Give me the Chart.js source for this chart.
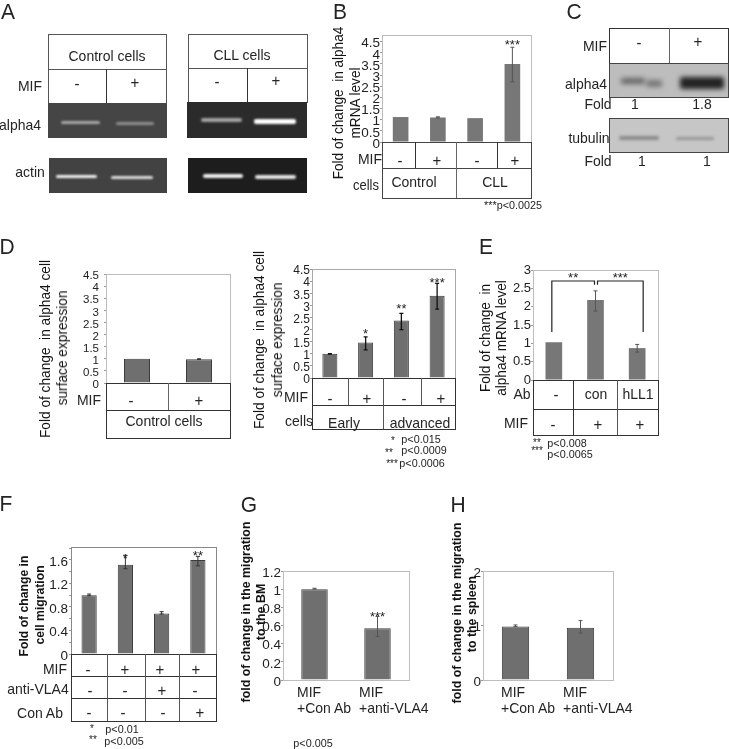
<!DOCTYPE html>
<html>
<head>
<meta charset="utf-8">
<title>alpha4 expression figure</title>
<script src="https://cdn.jsdelivr.net/npm/chart.js@4"></script>
<style>
  html, body { margin: 0; padding: 0; background: #fff; }
  #page { position: relative; width: 729px; height: 749px; overflow: hidden; font-family: "Liberation Sans", Arial, sans-serif; color: #222; }
  #page canvas { position: absolute; }
  .t { position: absolute; white-space: pre; line-height: 1; opacity: 0.99; }
  .l { position: absolute; background: #333; }
  .gel { position: absolute; overflow: hidden; }
  .band { position: absolute; }
</style>
</head>
<body>
<div id="page"></div>
<script>
// Panel B
const bCategories = ['Control -', 'Control +', 'CLL -', 'CLL +'];
const bValues = [1.12, 1.1, 1.07, 3.5];
const bErrHigh = [null, 1.13, null, 4.25];
const bErrLow = [null, 1.08, null, 2.7];
const bStars = ['', '', '', '***'];
const bStarAt = [0, 0, 0, 4.44];

// Panel D, control cells
const d1Categories = ['-', '+'];
const d1Values = [1.0, 0.98];
const d1ErrHigh = [null, 1.0];
const d1ErrLow = [null, 0.97];

// Panel D, patients
const d2Categories = ['Early -', 'Early +', 'advanced -', 'advanced +'];
const d2Values = [1.0, 1.47, 2.37, 3.4];
const d2ErrHigh = [1.01, 1.7, 2.67, 3.91];
const d2ErrLow = [0.99, 1.16, 2.0, 2.84];
const d2Stars = ['', '*', '**', '***'];
const d2StarAt = [0, 1.9, 2.9, 3.97];

// Panel E
const eCategories = ['-', 'con', 'hLL1'];
const eValues = [1.03, 2.18, 0.87];
const eErrHigh = [null, 2.43, 0.97];
const eErrLow = [null, 1.88, 0.76];

// Panel F
const fCategories = ['MIF -', 'MIF +', 'MIF + anti-VLA4', 'MIF + Con Ab'];
const fValues = [1.0, 1.52, 0.69, 1.6];
const fErrHigh = [1.02, 1.68, 0.72, 1.66];
const fErrLow = [0.99, 1.45, 0.68, 1.5];
const fStars = ['', '*', '', '**'];
const fStarAt = [0, 1.65, 0, 1.7];
const fMifRow = ['-', '+', '+', '+'];
const fVlaRow = ['-', '-', '+', '-'];
const fConRow = ['-', '-', '-', '+'];

// Panel G
const gCategories = ['MIF +Con Ab', 'MIF +anti-VLA4'];
const gValues = [1.0, 0.57];
const gErrHigh = [1.01, 0.7];
const gErrLow = [null, 0.48];
const gStars = ['', '***'];
const gStarAt = [0, 0.71];

// Panel H
const hCategories = ['MIF +Con Ab', 'MIF +anti-VLA4'];
const hValues = [0.98, 0.96];
const hErrHigh = [1.01, 1.09];
const hErrLow = [null, 0.86];

const page = document.getElementById('page');
const AXIS_W = 40;
const PAD = 12;
const TALL = 1.08; // the lettering in the figure is a bit narrow for its height

/**
 * Place a piece of text, centred on x,y unless told otherwise
 */
function text(str, x, y, opts) {
  opts = opts || {};
  const el = document.createElement('div');
  el.className = 't';
  el.textContent = str;
  el.style.left = x + 'px';
  el.style.top = y + 'px';
  el.style.fontSize = ((opts.size || 14) * TALL) + 'px';
  if (opts.bold) el.style.fontWeight = 'bold';
  page.appendChild(el);
  const squeeze = 'scaleX(' + (1 / TALL) + ')';
  if (opts.left) {
    el.style.transformOrigin = '0 50%';
    el.style.transform = 'translate(0, -50%) ' + squeeze;
  } else if (opts.rot) {
    // even box sizes keep the turned text on whole pixels, otherwise it smears
    const w = Math.ceil(el.offsetWidth / 2) * 2 + 2;
    const h = Math.ceil(el.offsetHeight / 2) * 2;
    el.style.width = w + 'px';
    el.style.height = h + 'px';
    el.style.textAlign = 'center';
    el.style.color = '#111';
    el.style.left = (x - w / 2) + 'px';
    el.style.top = (y - h / 2) + 'px';
    el.style.transform = 'rotate(-90deg) ' + squeeze;
  } else {
    el.style.transform = 'translate(-50%, -50%) ' + squeeze;
  }
}

function hline(x1, x2, y, color, w) {
  const el = document.createElement('div');
  el.className = 'l';
  el.style.cssText = 'left:' + x1 + 'px;top:' + y + 'px;width:' + (x2 - x1 + 1) + 'px;height:' + (w || 1) + 'px;background:' + (color || '#333');
  page.appendChild(el);
}

function vline(x, y1, y2, color, w) {
  const el = document.createElement('div');
  el.className = 'l';
  el.style.cssText = 'left:' + x + 'px;top:' + y1 + 'px;width:' + (w || 1) + 'px;height:' + (y2 - y1) + 'px;background:' + (color || '#333');
  page.appendChild(el);
}

// Outer box with horizontal row lines
function grid(x1, x2, ys, color) {
  ys.forEach(y => hline(x1, x2, y, color));
  vline(x1, ys[0], ys[ys.length - 1], color);
  vline(x2, ys[0], ys[ys.length - 1], color);
}

function signs(list, xs, y) {
  list.forEach((s, i) => text(s, xs[i], y, { size: 15 }));
}

function gel(x, y, w, h, color, border) {
  const el = document.createElement('div');
  el.className = 'gel';
  el.style.cssText = 'left:' + x + 'px;top:' + y + 'px;width:' + w + 'px;height:' + h + 'px;background:' + color + (border ? ';box-sizing:border-box;border:1px solid ' + border : '');
  page.appendChild(el);
  return el;
}

function band(parent, x, y, w, h, color, blur) {
  const el = document.createElement('div');
  el.className = 'band';
  el.style.cssText = 'left:' + x + 'px;top:' + y + 'px;width:' + w + 'px;height:' + h + 'px;background:' + color + ';filter:blur(' + blur + 'px);border-radius:2px';
  parent.appendChild(el);
}

// Draws plot frame, error bars, significance stars and brackets from the scales
const marksPlugin = {
  id: 'marks',
  beforeDatasetsDraw(chart, args, opts) {
    const a = chart.chartArea;
    const ctx = chart.ctx;
    ctx.save();
    ctx.strokeStyle = opts.frame || '#bdbdbd';
    ctx.lineWidth = 1;
    ctx.strokeRect(a.left + 0.5, a.top + 0.5, a.right - a.left, a.bottom - a.top);
    ctx.restore();
  },
  afterDatasetsDraw(chart, args, opts) {
    const ctx = chart.ctx;
    const x = chart.scales.x;
    const y = chart.scales.y;
    ctx.save();
    ctx.strokeStyle = opts.errColor || '#333';
    ctx.lineWidth = opts.errWidth || 1;
    (opts.high || []).forEach((hi, i) => {
      if (hi === null) return;
      const lo = opts.low[i] === null ? chart.data.datasets[0].data[i] : opts.low[i];
      const px = x.getPixelForValue(i);
      ctx.beginPath();
      ctx.moveTo(px, y.getPixelForValue(hi));
      ctx.lineTo(px, y.getPixelForValue(lo));
      [hi, lo].forEach(v => {
        ctx.moveTo(px - 2, y.getPixelForValue(v));
        ctx.lineTo(px + 2, y.getPixelForValue(v));
      });
      ctx.stroke();
    });
    ctx.fillStyle = '#222';
    ctx.font = '13px "Liberation Sans"';
    ctx.textAlign = 'center';
    ctx.textBaseline = 'middle';
    (opts.stars || []).forEach((s, i) => {
      if (s) ctx.fillText(s, x.getPixelForValue(i), y.getPixelForValue(opts.starAt[i]) + 2);
    });
    ctx.strokeStyle = '#222';
    ctx.lineWidth = 1.2;
    (opts.brackets || []).forEach(b => {
      const x1 = x.getPixelForValue(b.from) + (b.fromGap || 0);
      const x2 = x.getPixelForValue(b.to) + (b.toGap || 0);
      const top = y.getPixelForValue(b.top);
      ctx.beginPath();
      ctx.moveTo(x1, y.getPixelForValue(b.fromDrop));
      ctx.lineTo(x1, top);
      ctx.lineTo(x2, top);
      ctx.lineTo(x2, y.getPixelForValue(b.toDrop));
      ctx.stroke();
      ctx.fillText(b.label, (x1 + x2) / 2, top - 3);
    });
    ctx.restore();
  }
};

/**
 * Bar panel whose plot area lands on the given box
 */
function barPanel(box, cfg) {
  const canvas = document.createElement('canvas');
  const w = box.right - box.left + AXIS_W + PAD;
  const h = box.bottom - box.top + PAD * 2;
  canvas.width = w;
  canvas.height = h;
  canvas.style.width = w + 'px';
  canvas.style.height = h + 'px';
  canvas.style.left = (box.left - AXIS_W) + 'px';
  canvas.style.top = (box.top - PAD) + 'px';
  page.appendChild(canvas);
  return new Chart(canvas.getContext('2d'), {
    type: 'bar',
    data: {
      labels: cfg.categories,
      datasets: [{
        data: cfg.values,
        backgroundColor: cfg.fill || '#6f6f6f',
        borderColor: cfg.border || '#3c3c3c',
        borderWidth: cfg.borderWidth === undefined ? 1 : cfg.borderWidth,
        barPercentage: cfg.barPct || 0.42,
        categoryPercentage: 1
      }]
    },
    options: {
      responsive: false,
      animation: false,
      layout: { padding: { top: PAD, bottom: PAD, left: 0, right: PAD } },
      plugins: {
        legend: { display: false },
        tooltip: { enabled: false },
        marks: {
          high: cfg.high, low: cfg.low, stars: cfg.stars, starAt: cfg.starAt,
          brackets: cfg.brackets, frame: cfg.frame, errColor: cfg.errColor, errWidth: cfg.errWidth
        }
      },
      scales: {
        x: { display: false },
        y: {
          min: 0,
          max: cfg.max,
          afterFit(scale) { scale.width = AXIS_W; },
          border: { display: false },
          grid: { drawOnChartArea: false, tickLength: 2, tickColor: '#999' },
          ticks: {
            stepSize: cfg.step,
            includeBounds: false,
            padding: cfg.tickPad || 0,
            labelOffset: cfg.labelOffset === undefined ? 2 : cfg.labelOffset,
            color: '#222',
            autoSkip: false,
            font: { family: '"Liberation Sans"', size: cfg.tickSize || 13 },
            callback: cfg.tickLabel || (v => String(Math.round(v * 10) / 10))
          }
        }
      }
    },
    plugins: [marksPlugin]
  });
}

// ---- Panel letters
[['A', 8, 11], ['B', 340, 11], ['C', 574, 11], ['D', 7, 246], ['E', 486, 246], ['F', 6, 503], ['G', 249, 504], ['H', 458, 504]]
  .forEach(p => text(p[0], p[1], p[2], { size: 21 }));

// ---- Panel A
grid(48, 166, [34, 69, 103], '#555');
vline(106, 69, 103);
text('Control cells', 107, 56);
text('MIF', 30, 86);
text('-', 77, 83, { size: 15 });
text('+', 135, 82, { size: 15 });
grid(188, 307, [34, 68, 102], '#555');
vline(247, 68, 102);
text('CLL cells', 242, 55);
text('-', 217, 81, { size: 15 });
text('+', 276, 80, { size: 15 });
text('alpha4', 20, 125);
text('actin', 30, 172);

let g = gel(48, 103, 119, 35, '#454545');
band(g, 13, 18, 39, 3, '#a8a8a8', 1);
band(g, 68, 19, 38, 3, '#8f8f8f', 1);
g = gel(187, 102, 120, 36, '#2b2b2b');
band(g, 14, 16, 41, 4, '#a4a4a4', 1);
band(g, 67, 17, 42, 5, '#ffffff', 1);
g = gel(49, 158, 118, 35, '#424242');
band(g, 7, 17, 41, 3, '#f2f2f2', 0.8);
band(g, 62, 18, 42, 3, '#dcdcdc', 0.8);
g = gel(188, 158, 119, 35, '#1d1d1d');
band(g, 15, 16, 40, 4, '#f0f0f0', 0.8);
band(g, 67, 17, 41, 4, '#e6e6e6', 0.8);

// ---- Panel B
barPanel({ left: 382, right: 531, top: 35, bottom: 142 }, {
  categories: bCategories, values: bValues, high: bErrHigh, low: bErrLow,
  stars: bStars, starAt: bStarAt, max: 4.8, step: 0.5, tickSize: 13.5,
  fill: '#777', borderWidth: 0, errColor: '#555'
});
grid(382, 531, [142, 168, 198], '#444');
vline(415, 142, 168);
vline(456, 142, 198, '#666');
vline(497, 142, 168);
signs(['-', '+', '-', '+'], [400, 437, 477, 515], 160);
text('Control', 414, 182);
text('CLL', 495, 182);
text('MIF', 370, 159);
text('cells', 366, 185, { size: 13 });
text('***p<0.0025', 513, 205, { size: 10.8 });
text('Fold of change  in alpha4', 339, 103, { size: 13.6, rot: true });
text('mRNA level', 356, 103, { size: 13.6, rot: true });

// ---- Panel C
grid(609, 728, [28, 63], '#333');
vline(669, 28, 63, '#666');
text('MIF', 595, 46);
text('-', 639, 42, { size: 15 });
text('+', 698, 41, { size: 15 });
g = gel(609, 63, 120, 35, '#bdbdbd', '#444');
band(g, 11, 14, 24, 6, '#666', 2.5);
band(g, 36, 16, 16, 7, '#777', 2.5);
band(g, 70, 13, 44, 12, '#222', 2.5);
text('alpha4', 586, 84);
text('Fold', 598, 104);
text('1', 635, 104);
text('1.8', 702, 104);
g = gel(609, 118, 120, 35, '#c6c6c6', '#444');
band(g, 9, 17, 40, 4, '#8a8a8a', 1.5);
band(g, 66, 18, 38, 3, '#959595', 1.5);
text('tubulin', 589, 138);
text('Fold', 598, 161);
text('1', 642, 161);
text('1', 707, 161);

// ---- Panel D, control cells
barPanel({ left: 106, right: 230, top: 274, bottom: 383 }, {
  categories: d1Categories, values: d1Values, high: d1ErrHigh, low: d1ErrLow,
  max: 4.5, step: 0.5, barPct: 0.42, tickSize: 11.5, tickPad: 5
});
grid(106, 230, [383, 410, 438], '#333');
vline(168, 383, 410, '#666');
signs(['-', '+'], [131, 199], 400);
text('MIF', 89, 400);
text('Control cells', 164, 421);
text('Fold of change  in alpha4 cell', 46, 349, { size: 13.7, rot: true });
text('surface expression', 63, 348, { size: 13.7, rot: true });

// ---- Panel D, patients
barPanel({ left: 312, right: 455, top: 269, bottom: 378 }, {
  categories: d2Categories, values: d2Values, high: d2ErrHigh, low: d2ErrLow,
  stars: d2Stars, starAt: d2StarAt, tickSize: 12,
  max: 4.5, step: 0.5, errWidth: 1.3, errColor: '#111', frame: '#a8a8a8'
});
grid(312, 455, [378, 405, 429], '#333');
vline(348, 378, 405, '#555');
vline(383, 378, 429, '#555');
vline(421, 378, 405, '#555');
signs(['-', '+', '-', '+'], [330, 367, 404, 441], 398);
text('MIF', 296, 397);
text('cells', 299, 421);
text('Early', 344, 423);
text('advanced', 420, 423);
text('Fold of change  in alpha4 cell', 260, 340, { size: 13.7, rot: true });
text('surface expression', 278, 340, { size: 13.7, rot: true });
text('*', 393, 440, { size: 10 });
text('p<0.015', 421, 439, { size: 10.8 });
text('**', 389, 452, { size: 10 });
text('p<0.0009', 424, 450, { size: 10.8 });
text('***', 392, 463, { size: 10 });
text('p<0.0006', 422, 463, { size: 10.8 });

// ---- Panel E
barPanel({ left: 533, right: 658, top: 270, bottom: 380 }, {
  categories: eCategories, values: eValues, high: eErrHigh, low: eErrLow,
  max: 3, step: 0.5, fill: '#777', borderWidth: 0, barPct: 0.4, errColor: '#555', labelOffset: 0,
  brackets: [
    { from: 0, to: 1, fromGap: -2, toGap: -1, top: 2.7, fromDrop: 1.31, toDrop: 2.6, label: '**' },
    { from: 1, to: 2, fromGap: 2, toGap: 6, top: 2.7, fromDrop: 2.6, toDrop: 1.31, label: '***' }
  ]
});
grid(533, 658, [380, 409, 435], '#333');
vline(573, 380, 435);
vline(617, 380, 435, '#555');
text('Ab', 522, 394);
text('MIF', 516, 423);
text('-', 556, 394, { size: 15 });
text('con', 596, 394);
text('hLL1', 638, 394);
signs(['-', '+', '+'], [553, 598, 640], 424);
text('Fold of change  in', 486, 338, { size: 13.6, rot: true });
text('alpha4 mRNA level', 502, 338, { size: 13.6, rot: true });
text('**', 537, 442, { size: 10 });
text('p<0.008', 567, 443, { size: 10.8 });
text('***', 537, 450, { size: 10 });
text('p<0.0065', 570, 454, { size: 10.8 });

// ---- Panel F
barPanel({ left: 71, right: 216, top: 547, bottom: 654 }, {
  categories: fCategories, values: fValues, high: fErrHigh, low: fErrLow,
  stars: fStars, starAt: fStarAt, max: 1.82, step: 0.2, tickSize: 13.5, tickPad: 1,
  frame: '#888',
  tickLabel: v => {
    const r = Math.round(v * 10);
    return r % 4 === 0 ? (r === 0 ? '0' : (r / 10).toFixed(1)) : '';
  }
});
grid(71, 216, [654, 676, 698, 721], '#333');
vline(107, 654, 721, '#555');
vline(145, 654, 721, '#555');
vline(179, 654, 721, '#555');
text('MIF', 55, 669);
text('anti-VLA4', 38, 689);
text('Con Ab', 40, 713);
signs(fMifRow, [88, 125, 160, 196], 669);
signs(fVlaRow, [90, 125, 162, 195], 690);
signs(fConRow, [89, 123, 163, 200], 712);
text('*', 92, 728, { size: 10 });
text('p<0.01', 122, 729, { size: 10.8 });
text('**', 93, 739, { size: 10 });
text('p<0.005', 124, 741, { size: 10.8 });
text('Fold of change in', 24, 606, { size: 12.2, bold: true, rot: true });
text('cell migration', 40, 605, { size: 12.2, bold: true, rot: true });

// ---- Panel G
barPanel({ left: 283, right: 409, top: 571, bottom: 680 }, {
  categories: gCategories, values: gValues, high: gErrHigh, low: gErrLow,
  stars: gStars, starAt: gStarAt, max: 1.2, step: 0.2, tickSize: 13.5, errColor: '#555'
});
text('MIF', 297, 692, { left: true });
text('+Con Ab', 297, 708, { left: true });
text('MIF', 359, 692, { left: true });
text('+anti-VLA4', 359, 708, { left: true });
text('p<0.005', 313, 743, { size: 10.8 });
text('fold of change in the migration', 246, 612, { size: 12.4, bold: true, rot: true });
text('to the BM', 261, 612, { size: 12.4, bold: true, rot: true });

// ---- Panel H
barPanel({ left: 483, right: 613, top: 571, bottom: 680 }, {
  categories: hCategories, values: hValues, high: hErrHigh, low: hErrLow,
  max: 2, step: 1, tickSize: 13.5, errColor: '#555'
});
text('MIF', 501, 692, { left: true });
text('+Con Ab', 501, 708, { left: true });
text('MIF', 563, 692, { left: true });
text('+anti-VLA4', 563, 708, { left: true });
text('fold of change in the migration', 457, 613, { size: 12.4, bold: true, rot: true });
text('to the spleen', 472, 614, { size: 12.4, bold: true, rot: true });
</script>
</body>
</html>
